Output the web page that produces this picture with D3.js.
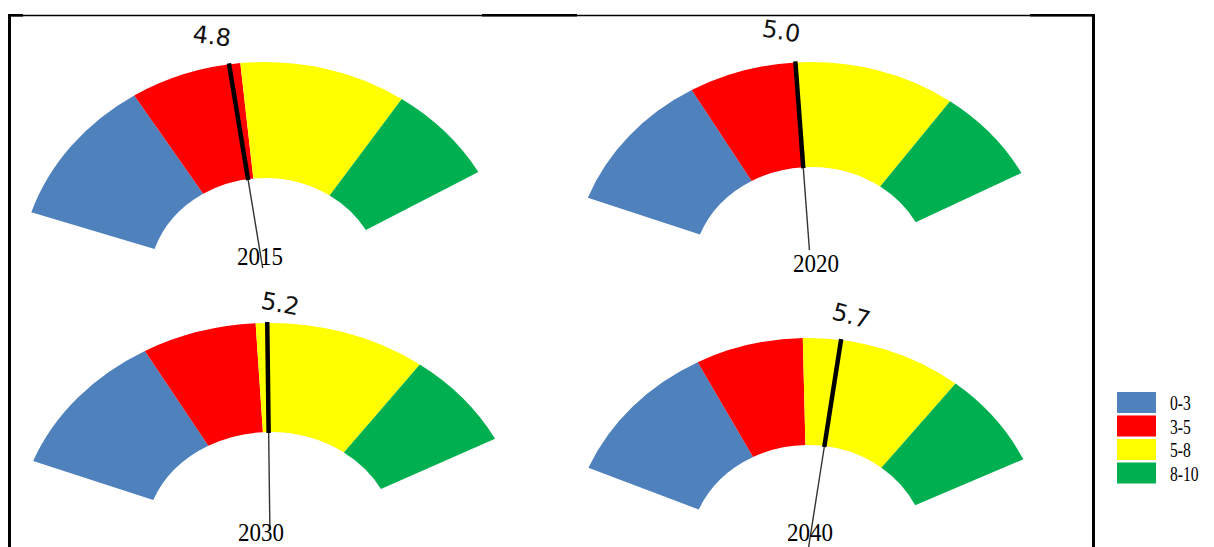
<!DOCTYPE html>
<html>
<head>
<meta charset="utf-8">
<script src="https://cdn.jsdelivr.net/npm/d3@7"></script>
<style>
  html, body { margin: 0; padding: 0; background: #ffffff; }
  svg { display: block; }
</style>
</head>
<body>
<svg id="chart" width="1214" height="547"></svg>
<script>
// ---------------- data ----------------
const years = ["2015", "2020", "2030", "2040"];
const values = [4.8, 5.0, 5.2, 5.7];
const valueLabels = ["4.8", "5.0", "5.2", "5.7"];
const bandLabels = ["0-3", "3-5", "5-8", "8-10"];
const bandStarts = [0, 3, 5, 8];
const bandEnds = [3, 5, 8, 10];
const bandColors = ["#4F81BD", "#FF0000", "#FFFF00", "#00B050"];
const scaleDomain = [0, 10];

// ---------------- layout ----------------
const W = 1214, H = 547;
const ANGLE_RANGE = [-70.5, 61];   // degrees, clockwise from 12 o'clock
// each gauge: centre, horizontal stretch, radii, small rotation, label placement
const gaugeLayout = [
  { cx: 265, cy: 282, k: 1.12, ro: 220, ri: 104, rot: -1.0, yearX: 260, yearY: 265, tailY: 268, valDX: -17, valDY: -27 },
  { cx: 811, cy: 271, k: 1.14, ro: 209, ri: 104, rot: 1.0,  yearX: 816, yearY: 272, tailY: 250, valDX: -14, valDY: -30 },
  { cx: 270, cy: 538, k: 1.18, ro: 215, ri: 106, rot: 1.5,  yearX: 261, yearY: 541, tailY: 530, valDX: 13,  valDY: -18 },
  { cx: 808, cy: 551, k: 1.12, ro: 213, ri: 106, rot: 3.5,  yearX: 810, yearY: 541, tailY: 547, valDX: 10,  valDY: -23 }
];

const svg = d3.select("#chart");
svg.append("rect").attr("width", W).attr("height", H).attr("fill", "#fff");

const angle = d3.scaleLinear().domain(scaleDomain).range(ANGLE_RANGE);
const rad = d => d * Math.PI / 180;

years.forEach((year, i) => {
  const L = gaugeLayout[i];
  const ang = v => angle(v) + L.rot;
  const pt = (r, deg) => [L.cx + L.k * r * Math.sin(rad(deg)), L.cy - r * Math.cos(rad(deg))];
  const arc = d3.arc().innerRadius(L.ri).outerRadius(L.ro);

  const g = svg.append("g")
    .attr("transform", `translate(${L.cx},${L.cy}) scale(${L.k},1)`);

  g.selectAll("path.band")
    .data(bandStarts.map((s, j) => ({ s, e: bandEnds[j], c: bandColors[j] })))
    .join("path")
    .attr("class", "band")
    .attr("d", d => arc({ startAngle: rad(ang(d.s)), endAngle: rad(ang(d.e)) }))
    .attr("fill", d => d.c);

  // needle
  const a = ang(values[i]);
  const tip = pt(L.ro + 1, a);
  const inner = pt(L.ri - 1, a);
  const endR = (L.cy - L.tailY) / Math.cos(rad(a));
  const tail = pt(endR, a);

  svg.append("line")
    .attr("x1", inner[0]).attr("y1", inner[1])
    .attr("x2", tail[0]).attr("y2", tail[1])
    .attr("stroke", "#333").attr("stroke-width", 1.4);

  svg.append("line")
    .attr("x1", tip[0]).attr("y1", tip[1])
    .attr("x2", inner[0]).attr("y2", inner[1])
    .attr("stroke", "#000").attr("stroke-width", 4.5);

  // value label
  const vx = tip[0] + L.valDX, vy = tip[1] + L.valDY;
  svg.append("text")
    .attr("transform", `translate(${vx},${vy}) rotate(${11 + a * 0.5})`)
    .attr("text-anchor", "middle")
    .attr("dominant-baseline", "central")
    .attr("font-family", "DejaVu Sans, Verdana, sans-serif")
    .attr("font-size", 24)
    .attr("fill", "#111")
    .text(valueLabels[i]);

  // year label
  svg.append("text")
    .attr("transform", `translate(${L.yearX},${L.yearY}) scale(1,1.1)`)
    .attr("text-anchor", "middle")
    .attr("font-family", "Liberation Serif, Times New Roman, serif")
    .attr("font-size", 23)
    .attr("fill", "#000")
    .text(year);
});

// legend
const legend = svg.append("g").attr("transform", "translate(1117,392)");
bandLabels.forEach((lab, j) => {
  legend.append("rect")
    .attr("x", 0).attr("y", j * 23.5)
    .attr("width", 39).attr("height", 21)
    .attr("fill", bandColors[j]);
  legend.append("text")
    .attr("transform", `translate(53,${j * 23.5 + 18}) scale(0.8,1.1)`)
    .attr("font-family", "Liberation Serif, Times New Roman, serif")
    .attr("font-size", 19.5)
    .attr("fill", "#000")
    .text(lab);
});

// frame
const frame = svg.append("g").attr("stroke", "#000").attr("fill", "none");
frame.append("line").attr("x1", 9).attr("y1", 15.5).attr("x2", 1094).attr("y2", 15.5).attr("stroke-width", 1.5);
[[9, 23], [482, 577], [1030, 1094]].forEach(([x1, x2]) => {
  frame.append("line").attr("x1", x1).attr("y1", 15.3).attr("x2", x2).attr("y2", 15.3).attr("stroke-width", 2.6);
});
frame.append("line").attr("x1", 9.5).attr("y1", 14).attr("x2", 9.5).attr("y2", H).attr("stroke-width", 3);
frame.append("line").attr("x1", 1093.5).attr("y1", 14).attr("x2", 1093.5).attr("y2", H).attr("stroke-width", 3);
</script>
</body>
</html>
